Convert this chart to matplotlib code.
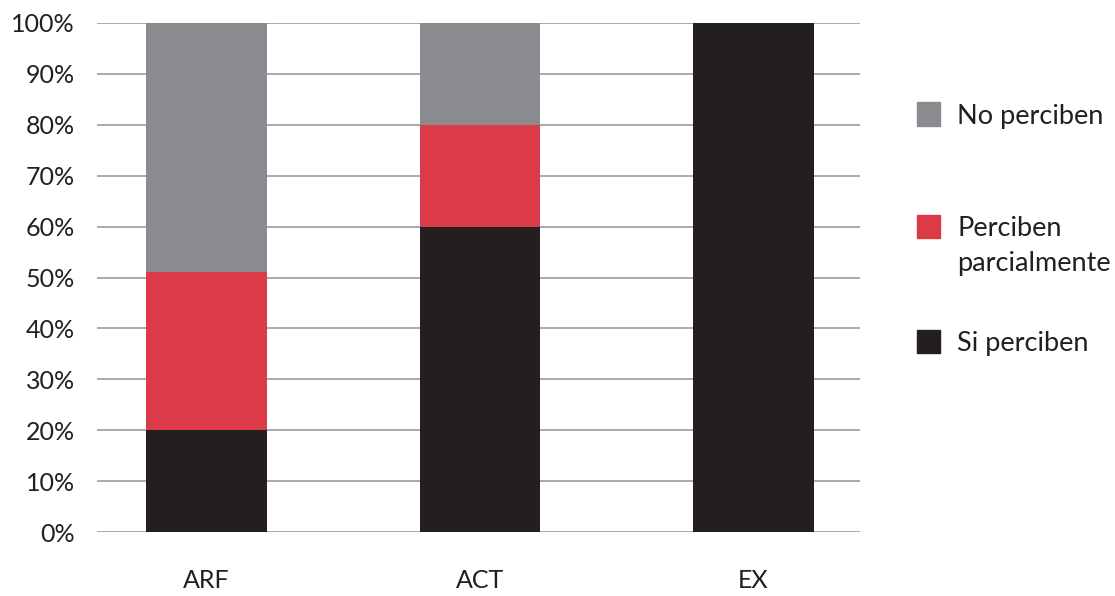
import matplotlib.pyplot as plt
import numpy as np
from matplotlib.patches import Rectangle

plt.rcParams['font.family'] = ['Lato', 'DejaVu Sans']

# data (percent)
groups = ['ARF', 'ACT', 'EX']
si_perciben = [20, 60, 100]
parcial = [31, 20, 0]
no_perciben = [49, 20, 0]

colors = {'si': '#231F20', 'parcial': '#DB3A47', 'no': '#8A8B8E'}
text_color = '#231F20'

W, H = 1115, 596
fig = plt.figure(figsize=(W / 100, H / 100), dpi=100)
ax = fig.add_axes([97 / W, 1 - 532 / H, (860 - 97) / W, (532 - 23) / H])

x = np.arange(len(groups))
width = 0.44

si = np.array(si_perciben)
pa = np.array(parcial)
no = np.array(no_perciben)

ax.bar(x, si, width, color=colors['si'], zorder=3)
ax.bar(x, pa, width, bottom=si, color=colors['parcial'], zorder=3)
ax.bar(x, no, width, bottom=si + pa, color=colors['no'], zorder=3)

# axis setup
ax.set_ylim(0, 100)
ax.set_xlim(-0.4, 2.39)
ax.set_yticks(np.arange(0, 101, 10))
ax.set_yticklabels([f'{v}%' for v in range(0, 101, 10)])
ax.set_xticks(x)
ax.set_xticklabels(groups)
ax.yaxis.grid(True, color='#A7A9AC', linewidth=1.4, zorder=0)
ax.tick_params(axis='both', length=0, labelsize=18, colors=text_color)
ax.tick_params(axis='y', pad=16)
ax.tick_params(axis='x', pad=27)
for s in ax.spines.values():
    s.set_visible(False)

# legend drawn by hand so the square sits next to the first line of a two-line label
legend_items = [('No perciben', colors['no'], 114),
                ('Perciben\nparcialmente', colors['parcial'], 226.5),
                ('Si perciben', colors['si'], 341)]
sq = 23
for label, col, yc in legend_items:
    fig.add_artist(Rectangle((917 / W, 1 - (yc + sq / 2) / H), sq / W, sq / H,
                             transform=fig.transFigure, color=col))
    for i, line in enumerate(label.split('\n')):
        fig.text(957 / W, 1 - (yc + 10 + 35 * i) / H, line, fontsize=19.5,
                 color=text_color, va='baseline', ha='left')

fig.savefig('out.png', dpi=100)
